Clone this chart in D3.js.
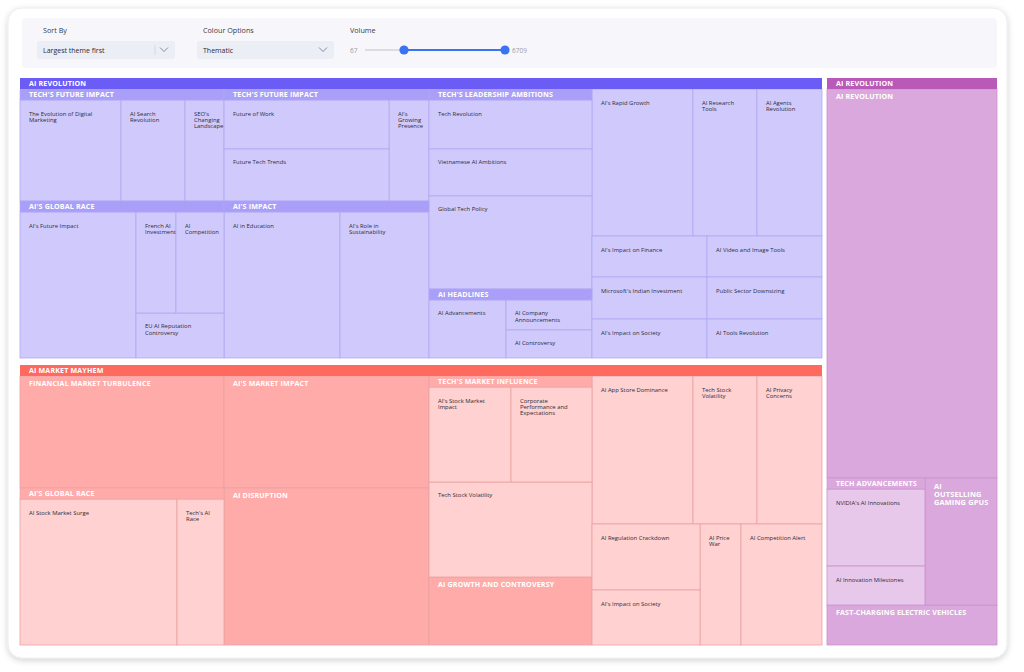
<!DOCTYPE html>
<html><head><meta charset="utf-8">
<script src="https://cdn.jsdelivr.net/npm/d3@7"></script>
<style>
body{margin:0;background:#ffffff;font-family:'Open Sans',sans-serif;}
svg{display:block;}
</style></head>
<body><svg id="chart" width="1024" height="672"></svg>
<script>
// ---------------- data ----------------
const themeNames = ["AI REVOLUTION", "AI MARKET MAYHEM", "AI REVOLUTION"];

// Theme 1: AI Revolution (blue)
const techFutureImpactA = ["The Evolution of Digital Marketing", "AI Search Revolution", "SEO's Changing Landscape"];
const techFutureImpactAVol = [2262, 1434, 874];
const aiGlobalRaceA = ["AI's Future Impact", "French AI Investment", "AI Competition", "EU AI Reputation Controversy"];
const aiGlobalRaceAVol = [3642, 869, 1043, 852];
const techFutureImpactB = ["Future of Work", "Future Tech Trends", "AI's Growing Presence"];
const techFutureImpactBVol = [1793, 1903, 896];
const aiImpact = ["AI in Education", "AI's Role in Sustainability"];
const aiImpactVol = [3642, 2795];
const techLeadership = ["Tech Revolution", "Vietnamese AI Ambitions", "Global Tech Policy"];
const techLeadershipVol = [1690, 1621, 3208];
const aiHeadlines = ["AI Advancements", "AI Company Announcements", "AI Controversy"];
const aiHeadlinesVol = [1063, 614, 573];
const revolutionTopics = ["AI's Rapid Growth", "AI Research Tools", "AI Agents Revolution",
  "AI's Impact on Finance", "Microsoft's Indian Investment", "AI's Impact on Society",
  "AI Video and Image Tools", "Public Sector Downsizing", "AI Tools Revolution"];
const revolutionTopicsVol = [2969, 1882, 1911, 943, 966, 897, 943, 966, 897];
const revolutionSubthemes = ["TECH'S FUTURE IMPACT", "AI'S GLOBAL RACE", "TECH'S FUTURE IMPACT", "AI'S IMPACT", "TECH'S LEADERSHIP AMBITIONS", "AI HEADLINES"];

// Theme 2: AI Market Mayhem (red)
const mayhemBlocks = ["FINANCIAL MARKET TURBULENCE", "AI'S MARKET IMPACT", "AI DISRUPTION", "AI GROWTH AND CONTROVERSY"];
const mayhemBlocksVol = [4570, 4592, 6437, 2217];
const aiGlobalRaceB = ["AI Stock Market Surge", "Tech's AI Race"];
const aiGlobalRaceBVol = [4930, 1476];
const techMarketInfluence = ["AI's Stock Market Impact", "Corporate Performance and Expectations", "Tech Stock Volatility"];
const techMarketInfluenceVol = [1648, 1628, 3276];
const mayhemTopics = ["AI App Store Dominance", "Tech Stock Volatility", "AI Privacy Concerns",
  "AI Regulation Crackdown", "AI's Impact on Society", "AI Price War", "AI Competition Alert"];
const mayhemTopicsVol = [2990, 1894, 1924, 1426, 1188, 992, 1960];
const mayhemSubthemes = ["AI'S GLOBAL RACE", "TECH'S MARKET INFLUENCE"];

// Theme 3: AI Revolution (purple)
const purpleBlocks = ["AI REVOLUTION", "AI OUTSELLING GAMING GPUS", "FAST-CHARGING ELECTRIC VEHICLES"];
const purpleBlocksVol = [13094, 1811, 1346];
const techAdvancements = ["NVIDIA's AI Innovations", "AI Innovation Milestones"];
const techAdvancementsVol = [1636, 828];
const purpleSubthemes = ["TECH ADVANCEMENTS"];

// Controls
const sortLabel = "Sort By", sortValue = "Largest theme first";
const colourLabel = "Colour Options", colourValue = "Thematic";
const volumeLabel = "Volume";
const volumeExtent = [67, 6709];
const volumeSelected = [1917, 6709];

// palettes: [theme header, subtheme, topic fill, line]
const palettes = [
  ["#6c5cf6", "#a99ff8", "#d0cafc", "#b1a8f2"],
  ["#ff6a5e", "#ffabaa", "#ffd1d0", "#e9a2a2"],
  ["#b95ab9", "#dba8dd", "#e8c8ea", "#cb92cd"]
];

// ---------------- hierarchy ----------------
const L = (names, vols, i) => ({kind: "leaf", name: names[i], value: vols[i]});
const B = (names, vols, i) => ({kind: "sub", name: names[i], value: vols[i]});
const G = (...children) => ({kind: "grp", children});
const S = (name, ...children) => ({kind: "sub", name, children});
const T = (ti, ...children) => ({kind: "theme", name: themeNames[ti], theme: ti, children});

const rootData = G(
  G(
    T(0,
      G(S(revolutionSubthemes[0], L(techFutureImpactA, techFutureImpactAVol, 0), L(techFutureImpactA, techFutureImpactAVol, 1), L(techFutureImpactA, techFutureImpactAVol, 2)),
        S(revolutionSubthemes[1], L(aiGlobalRaceA, aiGlobalRaceAVol, 0),
          G(G(L(aiGlobalRaceA, aiGlobalRaceAVol, 1), L(aiGlobalRaceA, aiGlobalRaceAVol, 2)), L(aiGlobalRaceA, aiGlobalRaceAVol, 3)))),
      G(S(revolutionSubthemes[2], G(L(techFutureImpactB, techFutureImpactBVol, 0), L(techFutureImpactB, techFutureImpactBVol, 1)), L(techFutureImpactB, techFutureImpactBVol, 2)),
        S(revolutionSubthemes[3], L(aiImpact, aiImpactVol, 0), L(aiImpact, aiImpactVol, 1))),
      G(S(revolutionSubthemes[4], G(L(techLeadership, techLeadershipVol, 0), L(techLeadership, techLeadershipVol, 1), L(techLeadership, techLeadershipVol, 2))),
        S(revolutionSubthemes[5], L(aiHeadlines, aiHeadlinesVol, 0), G(L(aiHeadlines, aiHeadlinesVol, 1), L(aiHeadlines, aiHeadlinesVol, 2)))),
      G(G(L(revolutionTopics, revolutionTopicsVol, 0), L(revolutionTopics, revolutionTopicsVol, 1), L(revolutionTopics, revolutionTopicsVol, 2)),
        G(G(L(revolutionTopics, revolutionTopicsVol, 3), L(revolutionTopics, revolutionTopicsVol, 4), L(revolutionTopics, revolutionTopicsVol, 5)),
          G(L(revolutionTopics, revolutionTopicsVol, 6), L(revolutionTopics, revolutionTopicsVol, 7), L(revolutionTopics, revolutionTopicsVol, 8))))
    ),
    T(1,
      G(B(mayhemBlocks, mayhemBlocksVol, 0),
        S(mayhemSubthemes[0], L(aiGlobalRaceB, aiGlobalRaceBVol, 0), L(aiGlobalRaceB, aiGlobalRaceBVol, 1))),
      G(B(mayhemBlocks, mayhemBlocksVol, 1), B(mayhemBlocks, mayhemBlocksVol, 2)),
      G(S(mayhemSubthemes[1], G(G(L(techMarketInfluence, techMarketInfluenceVol, 0), L(techMarketInfluence, techMarketInfluenceVol, 1)), L(techMarketInfluence, techMarketInfluenceVol, 2))),
        B(mayhemBlocks, mayhemBlocksVol, 3)),
      G(G(L(mayhemTopics, mayhemTopicsVol, 0), L(mayhemTopics, mayhemTopicsVol, 1), L(mayhemTopics, mayhemTopicsVol, 2)),
        G(G(L(mayhemTopics, mayhemTopicsVol, 3), L(mayhemTopics, mayhemTopicsVol, 4)), L(mayhemTopics, mayhemTopicsVol, 5), L(mayhemTopics, mayhemTopicsVol, 6)))
    )
  ),
  T(2,
    B(purpleBlocks, purpleBlocksVol, 0),
    G(S(purpleSubthemes[0], L(techAdvancements, techAdvancementsVol, 0), L(techAdvancements, techAdvancementsVol, 1)),
      B(purpleBlocks, purpleBlocksVol, 1)),
    B(purpleBlocks, purpleBlocksVol, 2)
  )
);

// ---------------- drawing ----------------
const svg = d3.select("#chart");
const defs = svg.append("defs");
const f = defs.append("filter").attr("id", "shadow").attr("x", "-5%").attr("y", "-5%").attr("width", "110%").attr("height", "110%");
f.append("feDropShadow").attr("dx", 0).attr("dy", 2).attr("stdDeviation", 3).attr("flood-color", "#000").attr("flood-opacity", 0.18);

// card
svg.append("rect").attr("x", 8).attr("y", 8).attr("width", 999).attr("height", 650).attr("rx", 14)
  .attr("fill", "#ffffff").attr("stroke", "#ececf0").attr("filter", "url(#shadow)");
// control panel
svg.append("rect").attr("x", 22).attr("y", 18).attr("width", 975).attr("height", 50).attr("rx", 4).attr("fill", "#f7f7fb");

const ctl = svg.append("g").style("font-family", "'Open Sans',sans-serif");
function dropdown(x, w, label, value) {
  ctl.append("text").attr("x", x + 6).attr("y", 33).attr("font-size", 7.2).attr("fill", "#3a3a48").text(label);
  ctl.append("rect").attr("x", x).attr("y", 41).attr("width", w).attr("height", 18).attr("rx", 2).attr("fill", "#eceef5");
  ctl.append("text").attr("x", x + 6).attr("y", 53).attr("font-size", 7).attr("fill", "#2a2a36").text(value);
  ctl.append("path").attr("d", `M${x + w - 15},47.5 L${x + w - 11},51.5 L${x + w - 7},47.5`).attr("fill", "none").attr("stroke", "#8a8aa0").attr("stroke-width", 1);
}
dropdown(37, 138, sortLabel, sortValue);
ctl.append("line").attr("x1", 155).attr("x2", 155).attr("y1", 45).attr("y2", 55).attr("stroke", "#d6d8e2");
dropdown(197, 137, colourLabel, colourValue);
ctl.append("text").attr("x", 350).attr("y", 33).attr("font-size", 7.2).attr("fill", "#3a3a48").text(volumeLabel);
const vx = d3.scaleLinear().domain(volumeExtent).range([365, 505]);
ctl.append("text").attr("x", 350).attr("y", 52.5).attr("font-size", 6.5).attr("fill", "#9a9aaa").text(volumeExtent[0]);
ctl.append("text").attr("x", 512).attr("y", 52.5).attr("font-size", 6.5).attr("fill", "#9a9aaa").text(volumeExtent[1]);
ctl.append("line").attr("x1", vx(volumeExtent[0])).attr("x2", vx(volumeExtent[1])).attr("y1", 50).attr("y2", 50).attr("stroke", "#dcdce4").attr("stroke-width", 2);
ctl.append("line").attr("x1", vx(volumeSelected[0])).attr("x2", vx(volumeSelected[1])).attr("y1", 50).attr("y2", 50).attr("stroke", "#3a74f0").attr("stroke-width", 2.2);
ctl.selectAll("circle.knob").data(volumeSelected).join("circle").attr("class", "knob")
  .attr("cx", d => vx(d)).attr("cy", 50).attr("r", 4.6).attr("fill", "#3a74f0");

// treemap
const root = d3.hierarchy(rootData).sum(d => d.children ? 0 : d.value);
d3.treemap()
  .size([977, 567])
  .tile(d3.treemapSliceDice)
  .paddingInner(d => d.depth === 0 ? 5 : (d.depth === 1 && d.data.kind === "grp" ? 7 : 0))
  .paddingTop(d => (d.data.kind === "theme" || d.data.kind === "sub") ? 11 : 0)
  (root);

root.each(d => { d.theme = d.data.kind === "theme" ? d.data.theme : (d.parent ? d.parent.theme : null); });

const gMap = svg.append("g").attr("transform", "translate(20,78)");
const gCells = gMap.append("g");
const gLabels = gMap.append("g");
const nodes = root.descendants();

function wrap(textSel, str, maxW, lineH) {
  const words = str.split(/\s+/);
  let line = [], tspan = textSel.append("tspan").attr("x", textSel.attr("x")).attr("dy", 0);
  for (const w of words) {
    line.push(w);
    tspan.text(line.join(" "));
    if (tspan.node().getComputedTextLength() > maxW && line.length > 1) {
      line.pop();
      tspan.text(line.join(" "));
      line = [w];
      tspan = textSel.append("tspan").attr("x", textSel.attr("x")).attr("dy", lineH).text(w);
    }
  }
}

// theme backgrounds
nodes.filter(d => d.data.kind === "theme").forEach(d => {
  const p = palettes[d.theme];
  gCells.append("rect").attr("x", d.x0).attr("y", d.y0).attr("width", d.x1 - d.x0).attr("height", d.y1 - d.y0).attr("fill", p[2]);
});
// leaf cells and blocks
nodes.filter(d => !d.children).forEach(d => {
  const p = palettes[d.theme];
  const isBlock = d.data.kind === "sub";
  const w = d.x1 - d.x0;
  gCells.append("rect").attr("x", d.x0).attr("y", d.y0).attr("width", w).attr("height", d.y1 - d.y0)
    .attr("fill", isBlock ? p[1] : p[2]).attr("stroke", p[3]).attr("stroke-width", 0.8);
  const big = isBlock && w < 100;
  const t = gLabels.append("text").attr("x", d.x0 + 9)
    .attr("y", d.y0 + (isBlock ? (big ? 11 : 9.8) : 15.5))
    .attr("font-size", isBlock ? (big ? 7.4 : 7.1) : 5.9)
    .attr("font-weight", isBlock ? 700 : 400)
    .attr("fill", isBlock ? "#ffffff" : "#2c2c3a")
    .attr("letter-spacing", isBlock ? 0.15 : 0);
  wrap(t, d.data.name, isBlock ? (big ? w - 16 : w - 18) : w * 0.76 - 3, isBlock ? 8 : 6.2);
});
// subtheme headers
nodes.filter(d => d.data.kind === "sub" && d.children).forEach(d => {
  const p = palettes[d.theme];
  gCells.append("rect").attr("x", d.x0).attr("y", d.y0).attr("width", d.x1 - d.x0).attr("height", 11)
    .attr("fill", p[1]).attr("stroke", p[3]).attr("stroke-width", 0.6);
  gLabels.append("text").attr("x", d.x0 + 9).attr("y", d.y0 + 8.3).attr("font-size", 7.1).attr("font-weight", 700)
    .attr("letter-spacing", 0.15).attr("fill", "#ffffff").text(d.data.name);
});
// theme headers
nodes.filter(d => d.data.kind === "theme").forEach(d => {
  const p = palettes[d.theme];
  gCells.append("rect").attr("x", d.x0).attr("y", d.y0).attr("width", d.x1 - d.x0).attr("height", 11).attr("fill", p[0]);
  gLabels.append("text").attr("x", d.x0 + 9).attr("y", d.y0 + 8.3).attr("font-size", 7.1).attr("font-weight", 700)
    .attr("letter-spacing", 0.15).attr("fill", "#ffffff").text(d.data.name);
});
</script>
</body></html>
